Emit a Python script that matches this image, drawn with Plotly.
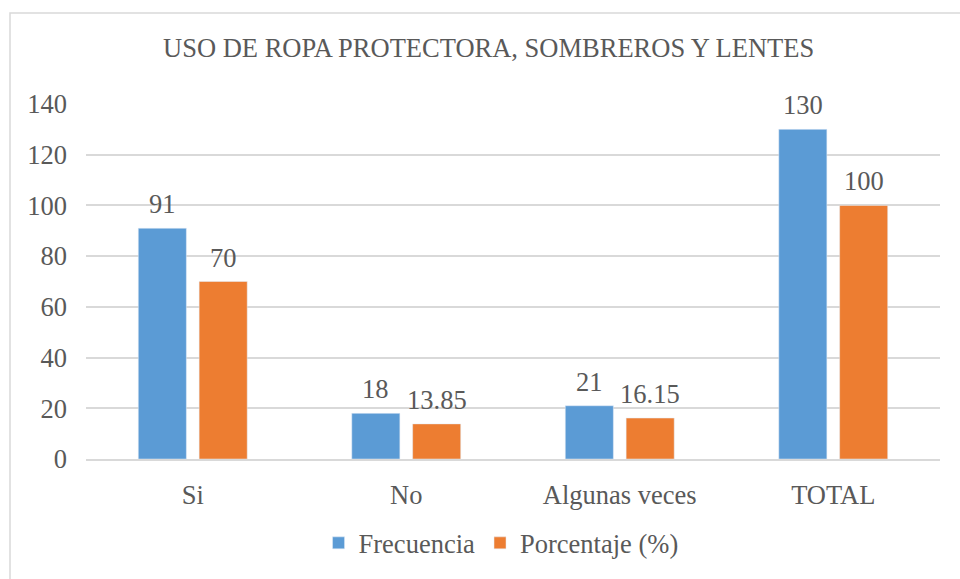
import plotly.graph_objects as go

# Survey results: use of protective clothing, hats and glasses
categorias = ["Si", "No", "Algunas veces", "TOTAL"]
frecuencia = [91, 18, 21, 130]
porcentaje = [70, 13.85, 16.15, 100]
etiquetas_frecuencia = ["91", "18", "21", "130"]
etiquetas_porcentaje = ["70", "13.85", "16.15", "100"]
ticks_y = [0, 20, 40, 60, 80, 100, 120, 140]

AZUL = "#5B9BD5"
NARANJA = "#ED7D31"
GRIS_TEXTO = "#595959"
GRIS_LINEA = "#D9D9D9"
FUENTE = "Liberation Serif"
TAM = 26.5

fig = go.Figure()
fig.add_trace(go.Bar(name="Frecuencia", x=categorias, y=frecuencia,
                     marker=dict(color=AZUL)))
fig.add_trace(go.Bar(name="Porcentaje (%)", x=categorias, y=porcentaje,
                     marker=dict(color=NARANJA)))

# Value labels above each bar
for cat, v, t in zip(categorias, frecuencia, etiquetas_frecuencia):
    fig.add_annotation(x=cat, y=v, text=t, showarrow=False, xshift=-30.5,
                       yshift=24, yanchor="middle",
                       font=dict(family=FUENTE, size=TAM, color=GRIS_TEXTO))
for cat, v, t in zip(categorias, porcentaje, etiquetas_porcentaje):
    fig.add_annotation(x=cat, y=v, text=t, showarrow=False, xshift=30.5,
                       yshift=24, yanchor="middle",
                       font=dict(family=FUENTE, size=TAM, color=GRIS_TEXTO))

# Chart frame
fig.add_shape(type="rect", xref="paper", yref="paper",
              x0=-0.089, x1=1.045, y0=-0.36, y1=1.256,
              line=dict(color=GRIS_LINEA, width=1.5), fillcolor="rgba(0,0,0,0)",
              layer="below")

fig.update_layout(
    width=960, height=579,
    margin=dict(l=86, r=20, t=104, b=116),
    paper_bgcolor="white", plot_bgcolor="white",
    barmode="group", bargap=0.43, bargroupgap=0.21,
    font=dict(family=FUENTE, size=TAM, color=GRIS_TEXTO),
    title=dict(text="USO DE ROPA PROTECTORA, SOMBREROS Y LENTES",
               x=0.509, xref="container", xanchor="center",
               y=1 - 48 / 579, yref="container", yanchor="middle",
               font=dict(family=FUENTE, size=26.5, color=GRIS_TEXTO)),
    legend=dict(orientation="h", x=0.486, xanchor="center",
                y=-0.237, yanchor="middle",
                font=dict(family=FUENTE, size=TAM, color=GRIS_TEXTO),
                itemwidth=30, traceorder="normal"),
    showlegend=True,
)
fig.update_xaxes(showgrid=False, showline=True, linecolor=GRIS_LINEA,
                 linewidth=2, ticks="", ticklabelstandoff=11,
                 tickfont=dict(family=FUENTE, size=TAM, color=GRIS_TEXTO))
fig.update_yaxes(range=[0, 140], tickvals=ticks_y, showgrid=True,
                 gridcolor=GRIS_LINEA, gridwidth=2, zeroline=False,
                 showline=False, ticks="", ticklabelstandoff=18,
                 tickfont=dict(family=FUENTE, size=TAM, color=GRIS_TEXTO))

fig.write_html("out.html")
